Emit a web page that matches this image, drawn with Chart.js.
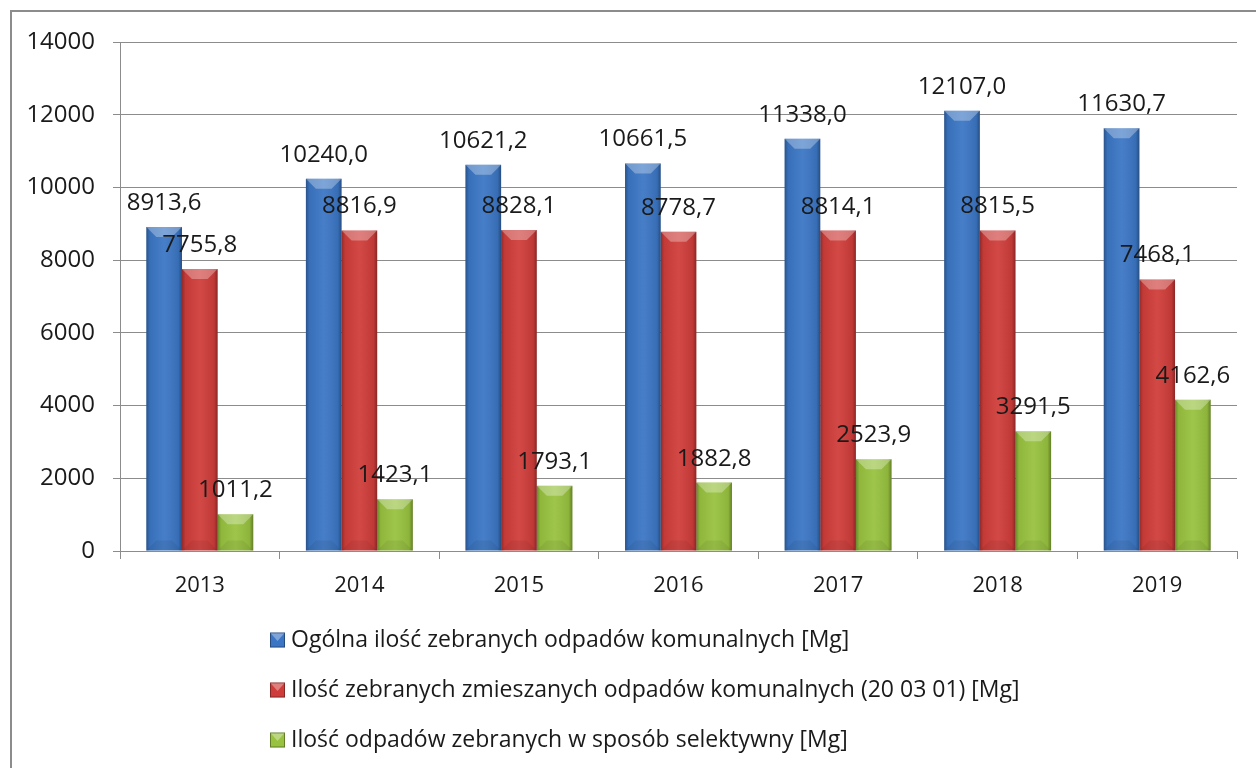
<!DOCTYPE html>
<html><head><meta charset="utf-8">
<script src="https://cdn.jsdelivr.net/npm/chart.js@4/dist/chart.umd.min.js"></script>
<style>
html,body{margin:0;padding:0;background:#fff;overflow:hidden;width:1256px;height:768px}
#frame{position:absolute;left:10px;top:10px;width:1300px;height:900px;border:2px solid #8c8c8c;box-sizing:border-box}
#wrap{position:absolute;left:0;top:0;width:1256px;height:768px}
</style></head>
<body>
<div id="frame"></div>
<div id="wrap"><canvas id="c" width="1256" height="768"></canvas></div>
<script>
const categories = ['2013', '2014', '2015', '2016', '2017', '2018', '2019'];
const seriesNames = [
  'Ogólna ilość zebranych odpadów komunalnych [Mg]',
  'Ilość zebranych zmieszanych odpadów komunalnych (20 03 01) [Mg]',
  'Ilość odpadów zebranych w sposób selektywny [Mg]'
];
const totalWaste = [8913.6, 10240.0, 10621.2, 10661.5, 11338.0, 12107.0, 11630.7];
const mixedWaste = [7755.8, 8816.9, 8828.1, 8778.7, 8814.1, 8815.5, 7468.1];
const selectiveWaste = [1011.2, 1423.1, 1793.1, 1882.8, 2523.9, 3291.5, 4162.6];
const yTicks = [0, 2000, 4000, 6000, 8000, 10000, 12000, 14000];
const seriesColors = ['#3b76c4', '#cf3d3a', '#98c23f'];

const FONT = '"Open Sans", "DejaVu Sans", sans-serif';

const bevelPlugin = {
  id: 'bevel',
  afterDatasetsDraw(chart) {
    const ctx = chart.ctx;
    ctx.save();
    chart.data.datasets.forEach((ds, i) => {
      chart.getDatasetMeta(i).data.forEach(bar => {
        const p = bar.getProps(['x', 'y', 'base', 'width'], true);
        const l = p.x - p.width / 2, r = p.x + p.width / 2, h = p.base - p.y;
        const g = ctx.createLinearGradient(l, 0, r, 0);
        g.addColorStop(0, 'rgba(0,0,0,0.30)');
        g.addColorStop(0.1, 'rgba(0,0,0,0.06)');
        g.addColorStop(0.5, 'rgba(255,255,255,0.06)');
        g.addColorStop(0.9, 'rgba(0,0,0,0.08)');
        g.addColorStop(1, 'rgba(0,0,0,0.35)');
        ctx.fillStyle = g;
        ctx.fillRect(l, p.y, p.width, h);
        const b = Math.min(10, h / 3);
        ctx.beginPath();
        ctx.moveTo(l, p.y); ctx.lineTo(r, p.y); ctx.lineTo(r - b, p.y + b); ctx.lineTo(l + b, p.y + b); ctx.closePath();
        ctx.fillStyle = 'rgba(255,255,255,0.30)';
        ctx.fill();
        ctx.beginPath();
        ctx.moveTo(l, p.base); ctx.lineTo(r, p.base); ctx.lineTo(r - b, p.base - b); ctx.lineTo(l + b, p.base - b); ctx.closePath();
        ctx.fillStyle = 'rgba(0,0,0,0.06)';
        ctx.fill();
      });
    });
    ctx.restore();
  }
};

const labelPlugin = {
  id: 'valueLabels',
  afterDatasetsDraw(chart) {
    const ctx = chart.ctx;
    ctx.save();
    ctx.font = '24px ' + FONT;
    ctx.fillStyle = '#1a1a1a';
    ctx.textAlign = 'center';
    ctx.textBaseline = 'alphabetic';
    chart.data.datasets.forEach((ds, i) => {
      chart.getDatasetMeta(i).data.forEach((bar, j) => {
        const v = ds.data[j];
        ctx.fillText(v.toFixed(1).replace('.', ','), bar.x, bar.y - 17);
      });
    });
    ctx.restore();
  }
};

const legendPlugin = {
  id: 'stackLegend',
  afterDraw(chart) {
    const ctx = chart.ctx;
    const x0 = 270;
    let y = chart.chartArea.bottom + 89;
    ctx.save();
    ctx.font = '23px ' + FONT;
    ctx.textBaseline = 'middle';
    ctx.textAlign = 'left';
    chart.data.datasets.forEach(ds => {
      const s = 15;
      ctx.fillStyle = ds.backgroundColor;
      ctx.fillRect(x0, y - s / 2, s, s);
      ctx.beginPath();
      ctx.moveTo(x0, y - s / 2); ctx.lineTo(x0 + s, y - s / 2); ctx.lineTo(x0 + s / 2, y + 1); ctx.closePath();
      ctx.fillStyle = 'rgba(255,255,255,0.35)';
      ctx.fill();
      ctx.strokeStyle = 'rgba(0,0,0,0.35)';
      ctx.lineWidth = 1;
      ctx.strokeRect(x0 + 0.5, y - s / 2 + 0.5, s - 1, s - 1);
      ctx.fillStyle = '#1a1a1a';
      ctx.fillText(ds.label, x0 + 21, y);
      y += 50;
    });
    ctx.restore();
  }
};

new Chart(document.getElementById('c'), {
  type: 'bar',
  data: {
    labels: categories,
    datasets: [
      { label: seriesNames[0], data: totalWaste, backgroundColor: seriesColors[0] },
      { label: seriesNames[1], data: mixedWaste, backgroundColor: seriesColors[1] },
      { label: seriesNames[2], data: selectiveWaste, backgroundColor: seriesColors[2] }
    ]
  },
  options: {
    responsive: false,
    animation: false,
    devicePixelRatio: 1,
    layout: { padding: { top: 42, right: 19, left: 0, bottom: 157 } },
    datasets: { bar: { categoryPercentage: 0.67, barPercentage: 1.0 } },
    plugins: { legend: { display: false }, tooltip: { enabled: false } },
    scales: {
      x: {
        afterFit(s) { s.height = 60; },
        grid: { display: true, drawOnChartArea: false, drawTicks: true, tickLength: 8, offset: true, color: '#8c8c8c' },
        border: { display: true, color: '#8c8c8c', width: 1 },
        ticks: { font: { family: FONT, size: 22 }, color: '#1a1a1a', padding: 14 }
      },
      y: {
        min: 0, max: 14000,
        afterFit(s) { s.width = 120; },
        afterBuildTicks(s) { s.ticks = yTicks.map(v => ({ value: v })); },
        grid: { color: '#8c8c8c', tickLength: 7, lineWidth: 1 },
        border: { display: true, color: '#8c8c8c', width: 1 },
        ticks: { font: { family: FONT, size: 24 }, color: '#1a1a1a', padding: 18, callback: v => String(v) }
      }
    }
  },
  plugins: [bevelPlugin, labelPlugin, legendPlugin]
});
</script>
</body></html>
